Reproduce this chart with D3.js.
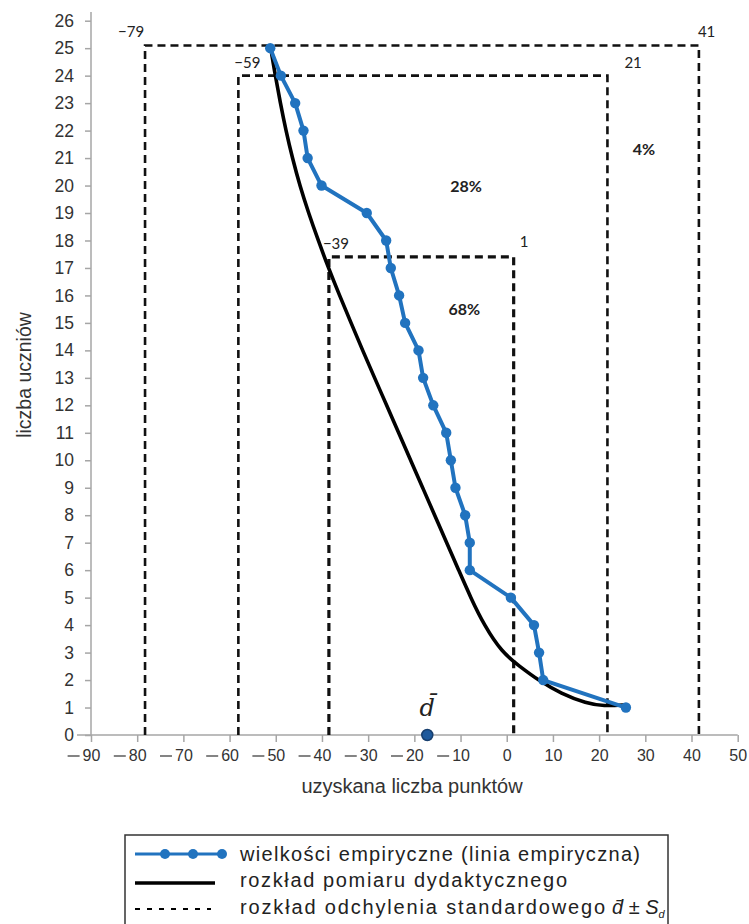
<!DOCTYPE html>
<html lang="pl">
<head>
  <meta charset="UTF-8">
  <title>Linia empiryczna</title>
  <script src="https://d3js.org/d3.v7.min.js"></script>
  <style>
    body { margin: 0; background: #fff; }
    svg { display: block; font-family: "Liberation Sans", Arial, sans-serif; }
    .axis line { stroke: #a6a6a6; stroke-width: 1.5; }
    .axis text { fill: #333; }
    .dash { fill: none; stroke: #111; stroke-width: 2.6; stroke-dasharray: 8,5; }
    .sdlabel { font-family: Lato, "Open Sans", sans-serif; font-size: 15px; fill: #222; }
    .pct { font-family: Lato, "Open Sans", sans-serif; font-size: 16px; font-weight: bold; fill: #222; }
  </style>
</head>
<body>
<script>
// linia empiryczna: liczba uczniów (y) vs uzyskana liczba punktów (x)
var empY = [25, 24, 23, 22, 21, 20, 19, 18, 17, 16, 15, 14, 13, 12, 11, 10, 9, 8, 7, 6, 5, 4, 3, 2, 1];
var empX = [-51.2, -48.9, -45.8, -44.0, -43.1, -40.1, -30.3, -26.1, -25.1, -23.3, -22.0, -19.1, -18.1,
            -15.9, -13.1, -12.1, -11.1, -9.0, -8.0, -8.0, 0.9, 5.9, 7.0, 7.9, 25.8];

// rozkład pomiaru dydaktycznego (krzywa)
var curveY = [25.1, 24, 23, 22, 21, 20, 19, 18, 17, 16, 15, 14, 13, 12, 11, 10, 9, 8, 7, 6, 5, 4, 3,
              2.5, 2.0, 1.5, 1.15, 1.05, 1.1];
var curveX = [-51.2, -50.1, -49.0, -47.8, -46.4, -44.8, -42.9, -40.8, -38.6, -36.2, -33.7, -31.2, -28.6,
              -26.0, -23.4, -20.8, -18.2, -15.6, -13.0, -10.4, -7.8, -4.9, -1.0, 2.8, 6.8, 11.8, 17.3, 20.9, 25.9];

// odchylenie standardowe: d ± Sd, d ± 2Sd, d ± 3Sd
var boxLeft  = [-38.5, -58.1, -78.3];
var boxRight = [1.5, 21.8, 41.6];
var boxTop   = [17.4, 24.0, 25.1];
var leftLabels  = ["\u221239", "\u221259", "\u221279"];
var rightLabels = ["1", "21", "41"];
var pctLabels = ["68%", "28%", "4%"];
var meanX = -17.2;

var xTicks = [-90, -80, -70, -60, -50, -40, -30, -20, -10, 0, 10, 20, 30, 40, 50];
var yTicks = [0, 1, 2, 3, 4, 5, 6, 7, 8, 9, 10, 11, 12, 13, 14, 15, 16, 17, 18, 19, 20, 21, 22, 23, 24, 25, 26];

var legendItems = ["wielkości empiryczne (linia empiryczna)", "rozkład pomiaru dydaktycznego", "rozkład odchylenia standardowego"];

var W = 749, H = 924;
var svg = d3.select("body").append("svg").attr("width", W).attr("height", H);

var x = d3.scaleLinear().domain([-90, 50]).range([91, 737.7]);
var y = d3.scaleLinear().domain([0, 26]).range([735, 20.7]);

// osie
var gx = svg.append("g").attr("class", "axis").attr("transform", "translate(0," + y(0) + ")")
  .call(d3.axisBottom(x).tickValues(xTicks).tickSize(7).tickPadding(8)
    .tickFormat(function(d) { return Math.abs(d); }));
gx.select(".domain").remove();
gx.selectAll("text").style("font-size", "16px");
gx.selectAll(".tick").each(function(d) {
  if (d < 0) {
    var t = d3.select(this).select("text");
    var w = t.node().getComputedTextLength();
    d3.select(this).append("line")
      .attr("x1", -w / 2 - 15).attr("x2", -w / 2 - 3)
      .attr("y1", 21).attr("y2", 21)
      .style("stroke", "#333").style("stroke-width", 1.2);
  }
});
svg.append("line").attr("x1", 77).attr("x2", x(50)).attr("y1", y(0)).attr("y2", y(0))
  .style("stroke", "#a6a6a6").style("stroke-width", 1.5);

var gy = svg.append("g").attr("class", "axis").attr("transform", "translate(" + x(-90) + ",0)")
  .call(d3.axisLeft(y).tickValues(yTicks).tickSize(6).tickPadding(11));
gy.select(".domain").remove();
gy.selectAll("text").style("font-size", "17.5px");
svg.append("line").attr("x1", x(-90)).attr("x2", x(-90)).attr("y1", 12).attr("y2", y(0))
  .style("stroke", "#a6a6a6").style("stroke-width", 1.5);

svg.append("text").attr("transform", "translate(31,375) rotate(-90)")
  .attr("text-anchor", "middle").style("font-size", "19.5px").style("fill", "#333")
  .text("liczba uczniów");
svg.append("text").attr("x", 412).attr("y", 793)
  .attr("text-anchor", "middle").style("font-size", "20px").style("fill", "#333")
  .text("uzyskana liczba punktów");

// prostokaty odchylenia standardowego
boxLeft.forEach(function(l, i) {
  var r = boxRight[i], t = boxTop[i];
  svg.append("path").attr("class", "dash")
    .attr("d", "M" + x(l) + "," + y(0) + "V" + y(t) + "H" + x(r) + "V" + y(0))
    .style("stroke-width", i == 0 ? 3.2 : 2.6);
});
var lOff = [[-6, -8], [-4, -8], [-27, -8]];
var rOff = [[6, -10], [17, -8], [-1, -8]];
leftLabels.forEach(function(s, i) {
  svg.append("text").attr("class", "sdlabel")
    .attr("x", x(boxLeft[i]) + lOff[i][0]).attr("y", y(boxTop[i]) + lOff[i][1]).text(s);
  svg.append("text").attr("class", "sdlabel")
    .attr("x", x(boxRight[i]) + rOff[i][0]).attr("y", y(boxTop[i]) + rOff[i][1]).text(rightLabels[i]);
});
var pctPos = [[-9.2, 15.29], [-8.8, 19.77], [29.7, 21.1]];
pctLabels.forEach(function(s, i) {
  svg.append("text").attr("class", "pct").attr("text-anchor", "middle")
    .attr("x", x(pctPos[i][0])).attr("y", y(pctPos[i][1])).text(s);
});

// krzywa rozkladu
var curveData = curveX.map(function(v, i) { return [v, curveY[i]]; });
svg.append("path").datum(curveData)
  .attr("d", d3.line().x(function(d) { return x(d[0]); }).y(function(d) { return y(d[1]); })
    .curve(d3.curveBasis))
  .style("fill", "none").style("stroke", "#000").style("stroke-width", 3.6);

// linia empiryczna
var blue = "#2173bf";
var empData = empX.map(function(v, i) { return [v, empY[i]]; });
svg.append("path").datum(empData)
  .attr("d", d3.line().x(function(d) { return x(d[0]); }).y(function(d) { return y(d[1]); }))
  .style("fill", "none").style("stroke", blue).style("stroke-width", 4).style("stroke-linejoin", "round");
svg.selectAll(".emp").data(empData).enter().append("circle")
  .attr("class", "emp")
  .attr("cx", function(d) { return x(d[0]); })
  .attr("cy", function(d) { return y(d[1]); })
  .attr("r", 5.2).style("fill", blue);

// srednia
svg.append("circle").attr("cx", x(meanX)).attr("cy", y(0)).attr("r", 5.5)
  .style("fill", "#1f5a9c").style("stroke", "#173f6e").style("stroke-width", 1.5);
svg.append("text").attr("x", x(meanX)).attr("y", 716).attr("text-anchor", "middle")
  .style("font-family", "'DejaVu Serif', serif").style("font-style", "italic").style("font-size", "24px")
  .style("fill", "#222").text("d\u0304");

// legenda
svg.append("rect").attr("x", 125).attr("y", 835).attr("width", 543).attr("height", 120)
  .style("fill", "#fff").style("stroke", "#333").style("stroke-width", 1.5);
var rowY = [854, 883, 909];
var textY = [860.5, 886.5, 913.5];
var textW = [400, 327, 365];
svg.append("line").attr("x1", 135).attr("x2", 222).attr("y1", rowY[0]).attr("y2", rowY[0])
  .style("stroke", blue).style("stroke-width", 3);
[165, 193, 222].forEach(function(cx) {
  svg.append("circle").attr("cx", cx).attr("cy", rowY[0]).attr("r", 5).style("fill", blue);
});
svg.append("line").attr("x1", 135).attr("x2", 215).attr("y1", rowY[1]).attr("y2", rowY[1])
  .style("stroke", "#000").style("stroke-width", 3.5);
svg.append("line").attr("x1", 135).attr("x2", 211).attr("y1", rowY[2]).attr("y2", rowY[2])
  .style("stroke", "#000").style("stroke-width", 2).style("stroke-dasharray", "5,7");
legendItems.forEach(function(s, i) {
  svg.append("text").attr("x", 240).attr("y", textY[i])
    .attr("textLength", textW[i]).attr("lengthAdjust", "spacing")
    .style("font-size", "20px").style("fill", "#222").text(s);
});
var sd = svg.append("text").attr("x", 612).attr("y", textY[2])
  .style("font-size", "20px").style("fill", "#222");
sd.append("tspan").style("font-style", "italic").text("d\u0304");
sd.append("tspan").text(" \u00b1 ");
sd.append("tspan").style("font-style", "italic").text("S");
sd.append("tspan").style("font-style", "italic").style("font-size", "11px").attr("dy", 4).text("d");
</script>
</body>
</html>
